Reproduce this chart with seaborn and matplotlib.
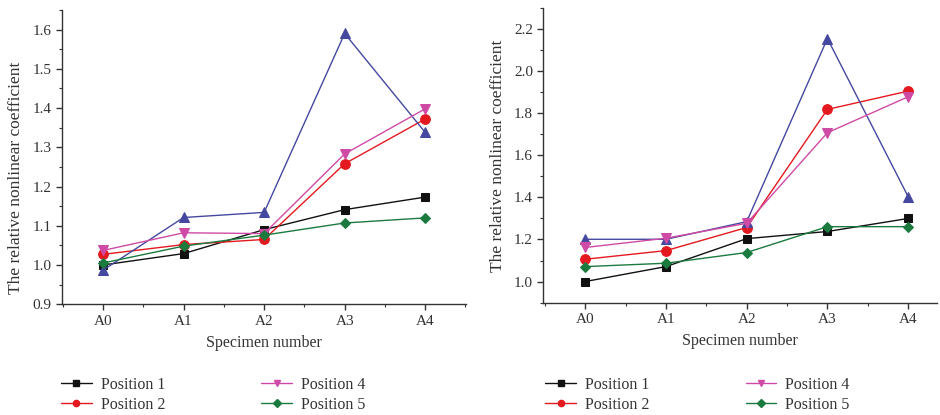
import numpy as np
import pandas as pd
import matplotlib
matplotlib.use("Agg")
import matplotlib.pyplot as plt
import seaborn as sns
from matplotlib.ticker import MultipleLocator, FixedLocator, FormatStrFormatter
from matplotlib.lines import Line2D

specimens = ["A0", "A1", "A2", "A3", "A4"]
series_names = ["Position 1", "Position 2", "Position 3", "Position 4", "Position 5"]

left_p1 = [1.000, 1.029, 1.090, 1.141, 1.173]
left_p2 = [1.027, 1.052, 1.065, 1.258, 1.372]
left_p3 = [0.987, 1.121, 1.134, 1.590, 1.338]
left_p4 = [1.037, 1.082, 1.080, 1.283, 1.398]
left_p5 = [1.005, 1.048, 1.076, 1.107, 1.120]

right_p1 = [1.000, 1.071, 1.204, 1.238, 1.300]
right_p2 = [1.106, 1.147, 1.257, 1.819, 1.906]
right_p3 = [1.201, 1.201, 1.285, 2.156, 1.404]
right_p4 = [1.162, 1.206, 1.277, 1.708, 1.879]
right_p5 = [1.071, 1.087, 1.138, 1.261, 1.261]

legend_names = ["Position 1", "Position 2", "Position 4", "Position 5"]

colors = {"Position 1": "#111111", "Position 2": "#e3191f", "Position 3": "#45489f",
          "Position 4": "#cf4aa5", "Position 5": "#1b7a3e"}
markers = {"Position 1": "s", "Position 2": "o", "Position 3": "^",
           "Position 4": "v", "Position 5": "D"}
msize = {"Position 1": 6, "Position 2": 7, "Position 3": 6.5, "Position 4": 6.5, "Position 5": 5}

def frame(vals):
    rows = []
    for name, v in zip(series_names, vals):
        for i, y in enumerate(v):
            rows.append({"x": i, "value": y, "series": name})
    return pd.DataFrame(rows)

df_left = frame([left_p1, left_p2, left_p3, left_p4, left_p5])
df_right = frame([right_p1, right_p2, right_p3, right_p4, right_p5])

sns.set_style("white")
plt.rcParams["font.family"] = ["Liberation Serif", "DejaVu Serif"]
plt.rcParams["font.size"] = 10

fig = plt.figure(figsize=(9.4, 4.15), dpi=100)
axL = fig.add_axes([0.066, 0.267, 0.430, 0.709])
axR = fig.add_axes([0.578, 0.271, 0.419, 0.709])

TXT = "#333333"

def draw(ax, df):
    for name in series_names:
        sub = df[df["series"] == name]
        sns.lineplot(data=sub, x="x", y="value", ax=ax, color=colors[name],
                     marker=markers[name], markersize=msize[name],
                     markeredgecolor=colors[name], linewidth=1.0,
                     legend=False)
    ax.set_xticks(range(len(specimens)))
    ax.set_xticklabels(specimens)
    ax.xaxis.set_minor_locator(FixedLocator([i + 0.5 for i in range(-1, len(specimens))]))
    for s in ["top", "right"]:
        ax.spines[s].set_visible(False)
    for s in ["left", "bottom"]:
        ax.spines[s].set_color(TXT)
        ax.spines[s].set_linewidth(1.0)
    ax.tick_params(which="major", direction="out", length=4, width=1, color=TXT,
                   labelsize=11, left=True, bottom=True, labelcolor=TXT)
    ax.tick_params(which="minor", direction="out", length=2.5, width=0.8, color=TXT,
                   left=True, bottom=True)
    ax.set_xlabel("Specimen number", fontsize=11.5, color=TXT, labelpad=5)
    ax.set_ylabel("The relative nonlinear coefficient", fontsize=12.5, color=TXT, labelpad=6)

draw(axL, df_left)
axL.set_xlim(-0.51, 4.51)
axL.set_ylim(0.9, 1.65)
axL.yaxis.set_major_locator(MultipleLocator(0.1))
axL.yaxis.set_minor_locator(MultipleLocator(0.05))
axL.yaxis.set_major_formatter(FormatStrFormatter("%.1f"))
axL.yaxis.set_label_coords(-0.095, 0.43)

draw(axR, df_right)
axR.set_xlim(-0.52, 4.36)
axR.set_ylim(0.9, 2.3)
axR.set_yticks([1.0, 1.2, 1.4, 1.6, 1.8, 2.0, 2.2])
axR.yaxis.set_minor_locator(FixedLocator(np.arange(0.9, 2.31, 0.1)))
axR.yaxis.set_major_formatter(FormatStrFormatter("%.1f"))

for anchor in [(0.055, -0.018), (0.570, -0.018)]:
    hs = [Line2D([], [], color=colors[n], marker=markers[n], markersize=4.5,
                 linewidth=1.0) for n in legend_names]
    fig.legend(hs, legend_names, loc="lower left", bbox_to_anchor=anchor, ncol=2,
               frameon=False, fontsize=11.5, handlelength=1.9, columnspacing=6.0,
               labelspacing=0.25, handletextpad=0.6, borderaxespad=0.2,
               labelcolor=TXT)

fig.savefig("out.png", dpi=100)
